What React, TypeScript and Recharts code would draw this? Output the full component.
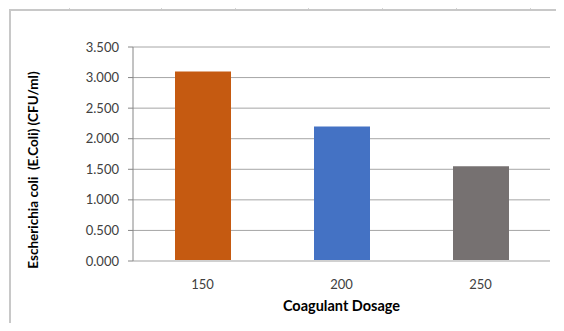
import React from 'react';
import { BarChart, Bar, XAxis, YAxis, CartesianGrid, Cell } from 'recharts';

const dosages = ['150', '200', '250'];
const ecoliCounts = [3.1, 2.2, 1.55];
const barColors = ['#C55A11', '#4472C4', '#767171'];
const yTicks = [0, 0.5, 1, 1.5, 2, 2.5, 3, 3.5];

// spreadsheet gridline stubs around the embedded chart
const colStubs = [69, 161, 235, 308, 382, 456, 530];
const rowStubs = [19, 42, 64, 86, 109, 132, 154, 177, 199, 221, 243, 265, 287, 309];

const data = dosages.map((d, i) => ({ dosage: d, count: ecoliCounts[i] }));

const FONT = 'Lato, "Open Sans", sans-serif';

const YTitle = (props: any) => {
  const { viewBox } = props;
  const x = viewBox.x + 33;
  const y = 170;
  return (
    <text
      x={x}
      y={y}
      transform={`rotate(-90, ${x}, ${y})`}
      textAnchor="middle"
      dominantBaseline="central"
      fontFamily={FONT}
      fontWeight={700}
      fontSize={13.5}
      fill="#000"
      style={{ whiteSpace: 'pre' }}
    >
      {'Escherichia coli  (E.Coli) (CFU/ml)'}
    </text>
  );
};

export default function App() {
  return (
    <div style={{ position: 'relative', width: 564, height: 331, margin: -8, background: '#fff', overflow: 'hidden' }}>
      {colStubs.map((x) => (
        <div key={'c' + x} style={{ position: 'absolute', left: x, top: 3, width: 1, height: 6, background: '#d4d4d4' }} />
      ))}
      {rowStubs.map((y) => (
        <div key={'r' + y} style={{ position: 'absolute', left: 2, top: y, width: 6, height: 1, background: '#d4d4d4' }} />
      ))}
      <div
        style={{
          position: 'absolute',
          left: 9,
          top: 9,
          width: 600,
          height: 320,
          borderLeft: '2px solid #c8c8c8',
          borderTop: '2px solid #c8c8c8',
          borderBottom: '2px solid #c8c8c8',
        }}
      />
      <div style={{ position: 'absolute', left: 0, top: 0 }}>
        <BarChart
          width={564}
          height={331}
          data={data}
          margin={{ top: 47, right: 14, bottom: 0, left: 0 }}
        >
          <CartesianGrid horizontal vertical={false} stroke="#a6a6a6" strokeWidth={1} />
          <XAxis
            dataKey="dosage"
            height={70}
            axisLine={{ stroke: '#d0d0d0', strokeWidth: 2 }}
            tickLine={false}
            tick={{ fill: '#404040', fontSize: 13, fontFamily: FONT }}
            tickMargin={13}
            label={{
              value: 'Coagulant Dosage',
              position: 'insideBottom',
              offset: 20,
              fill: '#000',
              fontSize: 14.5,
              fontWeight: 700,
              fontFamily: FONT,
            }}
          />
          <YAxis
            width={133}
            domain={[0, 3.5]}
            ticks={yTicks}
            interval={0}
            tickFormatter={(v: number) => v.toFixed(3)}
            axisLine={{ stroke: '#868686' }}
            tickLine={{ stroke: '#868686' }}
            tickSize={5}
            tickMargin={9}
            tick={{ fill: '#404040', fontSize: 13, fontFamily: FONT }}
            label={<YTitle />}
          />
          <Bar dataKey="count" barSize={56} isAnimationActive={false}>
            {data.map((d, i) => (
              <Cell key={d.dosage} fill={barColors[i]} />
            ))}
          </Bar>
        </BarChart>
      </div>
    </div>
  );
}
